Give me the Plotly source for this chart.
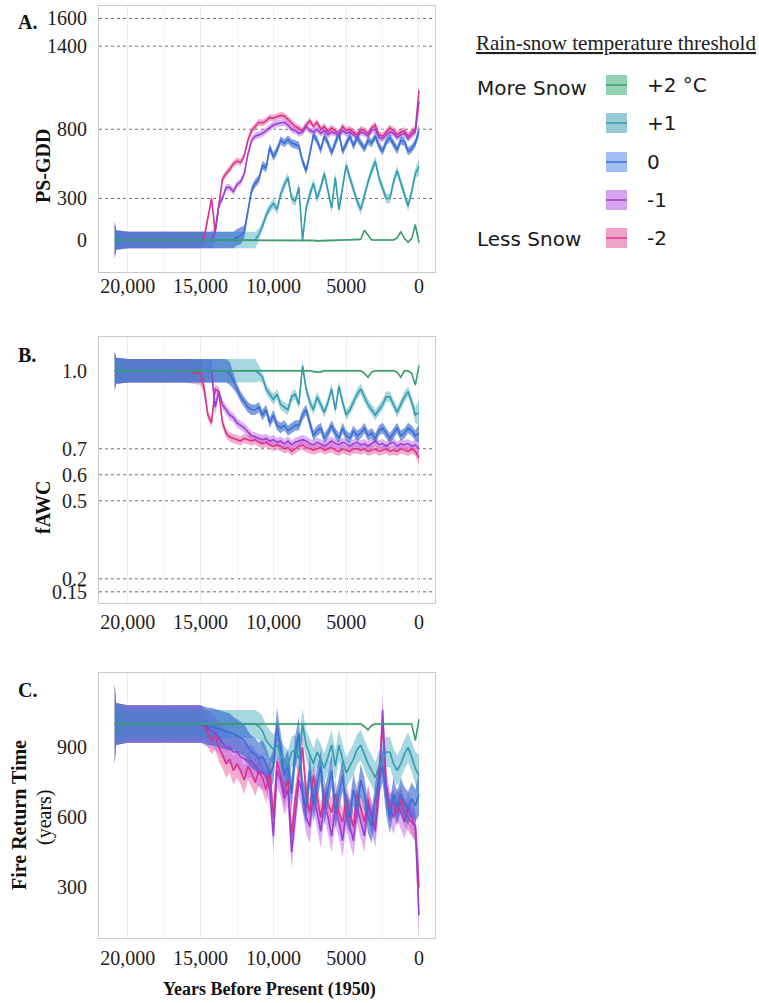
import plotly.graph_objects as go

# ---------------- data ----------------
years = [20900, 20800, 20000, 19000, 18000, 17000, 16000, 15000, 14750, 14500,
         14250, 14000, 13750, 13500, 13250, 13000, 12750, 12500, 12250, 12000,
         11750, 11500, 11250, 11000, 10750, 10500, 10250, 10000, 9750, 9500,
         9250, 9000, 8750, 8500, 8250, 8000, 7750, 7500, 7250, 7000,
         6750, 6500, 6250, 6000, 5750, 5500, 5250, 5000, 4750, 4500,
         4250, 4000, 3750, 3500, 3250, 3000, 2750, 2500, 2250, 2000,
         1750, 1500, 1250, 1000, 750, 500, 250, 0]

thresholds = ["+2 °C", "+1", "0", "-1", "-2"]

# Panel A: PS-GDD
gdd_p2 = [0, 0, 0, 0, 0, 0, 0, 0, 0, 0,
          0, 0, 0, 0, 0, 0, 0, 0, 0, 0,
          0, 0, 0, 0, 0, 0, 0, 0, 0, 0,
          0, 0, 0, 0, 0, 0, 0, 0, -3, -6,
          -5, 0, 0, 0, 0, 0, 0, 0, 0, 0,
          0, 5, 70, 35, 0, 0, 0, 0, 0, 0,
          0, 15, 60, 10, -15, 10, 110, -20]
gdd_p1 = [0, 0, 0, 0, 0, 0, 0, 0, 0, 0,
          0, 0, 0, 0, 0, 0, 0, 0, 0, 0,
          0, 0, 0, 40, 100, 180, 230, 265, 220, 330,
          400, 450, 300, 280, 380, 0, 230, 330, 410, 300,
          380, 480, 350, 230, 450, 220, 380, 540, 450, 370,
          280, 220, 330, 420, 500, 570, 450, 370, 300, 300,
          420, 500, 420, 330, 245, 350, 480, 530]
gdd_0 = [0, 0, 0, 0, 0, 0, 0, 0, 0, 0,
         0, 0, 0, 0, 0, 0, 0, 20, 30, 60,
         200, 360, 410, 440, 540, 520, 670, 600, 650, 720,
         700, 725, 700, 690, 680, 570, 500, 620, 760, 720,
         650, 750, 700, 630, 700, 770, 640, 700, 750, 680,
         740, 700, 660, 720, 700, 750, 680, 640, 710, 740,
         690, 650, 720, 710, 640, 660, 700, 790]
gdd_m1 = [0, 0, 0, 0, 0, 0, 0, 0, 0, 0,
          0, 60, 250, 300, 380, 380, 350, 400, 420, 480,
          620, 720, 750, 760, 770, 790, 810, 830, 840, 845,
          850, 830, 800, 790, 770, 780, 820, 790, 780, 800,
          770, 790, 760, 780, 770, 750, 790, 770, 780, 760,
          740, 780, 770, 750, 790, 800, 740, 730, 760, 780,
          770, 740, 760, 770, 730, 760, 780, 1000]
gdd_m2 = [0, 0, 0, 0, 0, 0, 0, 0, 20, 150,
          300, 60, 250, 440, 480, 510, 550, 570, 560, 610,
          720, 790, 820, 850, 845, 860, 885, 880, 890, 900,
          895, 870, 850, 820, 805, 790, 830, 860, 820, 850,
          800, 820, 780, 810, 790, 770, 820, 790, 800, 780,
          760, 800, 790, 770, 810, 830, 760, 750, 780, 810,
          790, 760, 780, 790, 750, 780, 800, 1080]

# ribbon half-widths, panel A
hwA_p2 = [100, 50, 8, 8, 8, 8, 8, 8, 8, 8,
          8, 8, 8, 8, 8, 8, 8, 8, 8, 8,
          8, 8, 8, 8, 8, 8, 8, 8, 8, 8,
          8, 8, 8, 8, 8, 8, 8, 8, 8, 8,
          8, 8, 8, 8, 8, 8, 8, 8, 8, 8,
          8, 8, 8, 8, 8, 8, 8, 8, 8, 8,
          8, 8, 8, 8, 8, 8, 10, 15]
hwA_p1 = [130, 70, 60, 60, 60, 60, 60, 60, 60, 60,
          60, 60, 60, 60, 60, 60, 60, 60, 60, 60,
          60, 60, 60, 45, 35, 35, 35, 35, 35, 35,
          35, 35, 35, 35, 35, 35, 35, 35, 35, 35,
          35, 35, 35, 35, 35, 35, 35, 35, 35, 35,
          35, 35, 35, 35, 35, 35, 35, 35, 35, 35,
          35, 35, 35, 35, 35, 35, 40, 60]
hwA_0 = [130, 70, 60, 60, 60, 60, 60, 60, 60, 60,
         60, 60, 60, 60, 60, 60, 60, 60, 60, 45,
         30, 30, 30, 30, 30, 30, 30, 30, 30, 30,
         30, 30, 30, 30, 30, 30, 30, 30, 30, 30,
         30, 30, 30, 30, 30, 30, 30, 30, 30, 30,
         30, 30, 30, 30, 30, 30, 30, 30, 30, 30,
         30, 30, 30, 30, 30, 30, 30, 40]
hwA_m1 = [130, 70, 60, 60, 60, 60, 60, 60, 60, 60,
          60, 40, 25, 25, 25, 25, 25, 25, 25, 25,
          25, 25, 25, 25, 25, 25, 25, 25, 25, 25,
          25, 25, 25, 25, 25, 25, 25, 25, 25, 25,
          25, 25, 25, 25, 25, 25, 25, 25, 25, 25,
          25, 25, 25, 25, 25, 25, 25, 25, 25, 25,
          25, 25, 25, 25, 25, 25, 25, 40]
hwA_m2 = [130, 70, 60, 60, 60, 60, 60, 60, 40, 25,
          25, 25, 25, 25, 25, 25, 25, 25, 25, 25,
          25, 25, 25, 25, 25, 25, 25, 25, 25, 25,
          25, 25, 25, 25, 25, 25, 25, 25, 25, 25,
          25, 25, 25, 25, 25, 25, 25, 25, 25, 25,
          25, 25, 25, 25, 25, 25, 25, 25, 25, 25,
          25, 25, 25, 25, 25, 25, 25, 40]

# Panel B: fAWC
awc_p2 = [1.0, 1.0, 1.0, 1.0, 1.0, 1.0, 1.0, 1.0, 1.0, 1.0,
          1.0, 1.0, 1.0, 1.0, 1.0, 1.0, 1.0, 1.0, 1.0, 1.0,
          1.0, 1.0, 1.0, 1.0, 1.0, 1.0, 1.0, 1.0, 1.0, 1.0,
          1.0, 1.0, 1.0, 1.0, 1.0, 1.0, 1.0, 1.0, 0.997, 0.995,
          0.996, 1.0, 1.0, 1.0, 1.0, 1.0, 1.0, 1.0, 1.0, 1.0,
          1.0, 1.0, 0.99, 0.975, 0.995, 1.0, 1.0, 1.0, 1.0, 1.0,
          1.0, 0.995, 0.975, 1.0, 1.0, 0.99, 0.945, 1.02]
awc_p1 = [1.0, 1.0, 1.0, 1.0, 1.0, 1.0, 1.0, 1.0, 1.0, 1.0,
          1.0, 1.0, 1.0, 1.0, 1.0, 1.0, 1.0, 1.0, 1.0, 1.0,
          1.0, 1.0, 1.0, 0.99, 0.975, 0.93, 0.91, 0.89, 0.91, 0.87,
          0.86, 0.85, 0.90, 0.91, 0.87, 1.02, 0.93, 0.88, 0.85, 0.90,
          0.87, 0.84, 0.88, 0.93, 0.85, 0.94, 0.88, 0.83, 0.85, 0.88,
          0.91, 0.93, 0.90, 0.87, 0.85, 0.83, 0.85, 0.87, 0.90, 0.90,
          0.87, 0.84, 0.87, 0.90, 0.92, 0.88, 0.83, 0.84]
awc_0 = [1.0, 1.0, 1.0, 1.0, 1.0, 1.0, 1.0, 1.0, 1.0, 1.0,
         1.0, 1.0, 1.0, 1.0, 1.0, 0.99, 0.96, 0.93, 0.90, 0.88,
         0.86, 0.85, 0.85, 0.86, 0.83, 0.85, 0.80, 0.83, 0.79, 0.78,
         0.79, 0.77, 0.78, 0.79, 0.79, 0.83, 0.85, 0.80, 0.75, 0.77,
         0.78, 0.74, 0.76, 0.79, 0.76, 0.74, 0.78, 0.75, 0.74, 0.77,
         0.75, 0.76, 0.78, 0.75, 0.76, 0.74, 0.77, 0.78, 0.76, 0.74,
         0.76, 0.78, 0.75, 0.76, 0.78, 0.77, 0.75, 0.76]
awc_m1 = [1.0, 1.0, 1.0, 1.0, 1.0, 1.0, 1.0, 1.0, 1.0, 1.0,
          1.0, 0.86, 0.92, 0.87, 0.85, 0.83, 0.82, 0.80, 0.79, 0.78,
          0.765, 0.75, 0.745, 0.74, 0.735, 0.74, 0.73, 0.735, 0.725, 0.73,
          0.72, 0.73, 0.715, 0.725, 0.73, 0.735, 0.73, 0.72, 0.715, 0.725,
          0.72, 0.71, 0.72, 0.73, 0.72, 0.715, 0.725, 0.72, 0.71, 0.72,
          0.725, 0.715, 0.72, 0.71, 0.72, 0.73, 0.715, 0.72, 0.71, 0.72,
          0.725, 0.71, 0.72, 0.715, 0.72, 0.71, 0.715, 0.70]
awc_m2 = [1.0, 1.0, 1.0, 1.0, 1.0, 1.0, 1.0, 0.99, 0.93, 0.83,
          0.80, 0.93, 0.92, 0.80, 0.76, 0.745, 0.74, 0.735, 0.73, 0.74,
          0.735, 0.73, 0.735, 0.725, 0.72, 0.725, 0.715, 0.71, 0.715, 0.71,
          0.70, 0.705, 0.69, 0.70, 0.71, 0.715, 0.705, 0.70, 0.695, 0.70,
          0.705, 0.695, 0.70, 0.705, 0.695, 0.69, 0.70, 0.695, 0.69, 0.70,
          0.70, 0.695, 0.70, 0.69, 0.695, 0.70, 0.69, 0.695, 0.70, 0.69,
          0.695, 0.69, 0.70, 0.695, 0.69, 0.70, 0.69, 0.665]

hwB_p2 = [0.06, 0.03, 0.004, 0.004, 0.004, 0.004, 0.004, 0.004, 0.004, 0.004,
          0.004, 0.004, 0.004, 0.004, 0.004, 0.004, 0.004, 0.004, 0.004, 0.004,
          0.004, 0.004, 0.004, 0.004, 0.004, 0.004, 0.004, 0.004, 0.004, 0.004,
          0.004, 0.004, 0.004, 0.004, 0.004, 0.004, 0.004, 0.004, 0.004, 0.004,
          0.004, 0.004, 0.004, 0.004, 0.004, 0.004, 0.004, 0.004, 0.004, 0.004,
          0.004, 0.004, 0.004, 0.004, 0.004, 0.004, 0.004, 0.004, 0.004, 0.004,
          0.004, 0.004, 0.004, 0.004, 0.004, 0.004, 0.006, 0.01]
hwB_p1 = [0.075, 0.05, 0.045, 0.045, 0.045, 0.045, 0.045, 0.045, 0.045, 0.045,
          0.045, 0.045, 0.045, 0.045, 0.045, 0.045, 0.045, 0.045, 0.045, 0.045,
          0.045, 0.045, 0.045, 0.03, 0.02, 0.02, 0.02, 0.02, 0.02, 0.02,
          0.02, 0.02, 0.02, 0.02, 0.02, 0.02, 0.02, 0.02, 0.02, 0.02,
          0.02, 0.02, 0.02, 0.02, 0.02, 0.02, 0.02, 0.02, 0.02, 0.02,
          0.02, 0.02, 0.02, 0.02, 0.02, 0.02, 0.02, 0.02, 0.02, 0.02,
          0.02, 0.02, 0.02, 0.02, 0.02, 0.02, 0.03, 0.05]
hwB_0 = [0.075, 0.05, 0.045, 0.045, 0.045, 0.045, 0.045, 0.045, 0.045, 0.045,
         0.045, 0.045, 0.045, 0.045, 0.045, 0.045, 0.03, 0.02, 0.02, 0.02,
         0.02, 0.02, 0.02, 0.02, 0.02, 0.02, 0.02, 0.02, 0.02, 0.02,
         0.02, 0.02, 0.02, 0.02, 0.02, 0.02, 0.02, 0.02, 0.02, 0.02,
         0.02, 0.02, 0.02, 0.02, 0.02, 0.02, 0.02, 0.02, 0.02, 0.02,
         0.02, 0.02, 0.02, 0.02, 0.02, 0.02, 0.02, 0.02, 0.02, 0.02,
         0.02, 0.02, 0.02, 0.02, 0.02, 0.02, 0.02, 0.035]
hwB_m1 = [0.075, 0.05, 0.045, 0.045, 0.045, 0.045, 0.045, 0.045, 0.045, 0.045,
          0.045, 0.03, 0.018, 0.018, 0.018, 0.018, 0.018, 0.018, 0.018, 0.018,
          0.018, 0.018, 0.018, 0.018, 0.018, 0.018, 0.018, 0.018, 0.018, 0.018,
          0.018, 0.018, 0.018, 0.018, 0.018, 0.018, 0.018, 0.018, 0.018, 0.018,
          0.018, 0.018, 0.018, 0.018, 0.018, 0.018, 0.018, 0.018, 0.018, 0.018,
          0.018, 0.018, 0.018, 0.018, 0.018, 0.018, 0.018, 0.018, 0.018, 0.018,
          0.018, 0.018, 0.018, 0.018, 0.018, 0.018, 0.018, 0.03]
hwB_m2 = [0.075, 0.05, 0.045, 0.045, 0.045, 0.045, 0.045, 0.045, 0.03, 0.018,
          0.018, 0.018, 0.018, 0.018, 0.018, 0.018, 0.018, 0.018, 0.018, 0.018,
          0.018, 0.018, 0.018, 0.018, 0.018, 0.018, 0.018, 0.018, 0.018, 0.018,
          0.018, 0.018, 0.018, 0.018, 0.018, 0.018, 0.018, 0.018, 0.018, 0.018,
          0.018, 0.018, 0.018, 0.018, 0.018, 0.018, 0.018, 0.018, 0.018, 0.018,
          0.018, 0.018, 0.018, 0.018, 0.018, 0.018, 0.018, 0.018, 0.018, 0.018,
          0.018, 0.018, 0.018, 0.018, 0.018, 0.018, 0.018, 0.03]

# Panel C: fire return time (years)
fire_p2 = [1000, 1000, 1000, 1000, 1000, 1000, 1000, 1000, 1000, 1000,
           1000, 1000, 1000, 1000, 1000, 1000, 1000, 1000, 1000, 1000,
           1000, 1000, 1000, 1000, 1000, 1000, 1000, 1000, 1000, 1000,
           1000, 1000, 1000, 1000, 1000, 1000, 1000, 1000, 1000, 1000,
           1000, 1000, 1000, 1000, 1000, 1000, 1000, 1000, 1000, 1000,
           1000, 1000, 990, 975, 995, 1000, 1000, 1000, 1000, 1000,
           1000, 1000, 1000, 1000, 1000, 1000, 930, 1020]
fire_p1 = [1000, 1000, 1000, 1000, 1000, 1000, 1000, 1000, 1000, 1000,
           1000, 1000, 1000, 1000, 1000, 1000, 1000, 1000, 1000, 1000,
           1000, 1000, 1000, 990, 970, 930, 910, 890, 910, 870,
           840, 820, 880, 890, 850, 1000, 910, 870, 830, 880,
           850, 810, 860, 910, 820, 910, 850, 790, 820, 850,
           890, 910, 870, 830, 800, 770, 820, 850, 880, 880,
           830, 800, 830, 870, 900, 860, 810, 780]
fire_0 = [1000, 1000, 1000, 1000, 1000, 1000, 1000, 1000, 995, 990,
          990, 985, 980, 975, 970, 965, 960, 950, 940, 930,
          900, 880, 870, 850, 860, 830, 780, 820, 1000, 900,
          780, 820, 700, 880, 960, 700, 640, 800, 650, 740,
          820, 640, 720, 800, 620, 700, 780, 640, 600, 720,
          640, 760, 700, 600, 560, 680, 760, 820, 680, 600,
          700, 640, 700, 660, 640, 680, 650, 700]
fire_m1 = [1000, 1000, 1000, 1000, 1000, 1000, 1000, 1000, 990, 980,
           970, 960, 940, 920, 900, 900, 880, 880, 860, 850,
           840, 840, 820, 800, 790, 780, 720, 520, 800, 760,
           680, 720, 450, 620, 760, 700, 600, 560, 700, 620,
           540, 660, 600, 520, 640, 580, 500, 620, 560, 500,
           640, 580, 520, 660, 600, 540, 700, 1060, 740, 640,
           600, 660, 620, 580, 640, 600, 560, 180]
fire_m2 = [1000, 1000, 1000, 1000, 1000, 1000, 1000, 1000, 990, 960,
           930, 950, 900, 870, 830, 850, 800, 830, 800, 760,
           820, 790, 750, 800, 770, 720, 800, 600, 840, 780,
           700, 760, 520, 680, 800, 900, 700, 620, 780, 680,
           600, 700, 660, 620, 700, 620, 580, 680, 620, 560,
           700, 640, 580, 680, 600, 560, 760, 1000, 700, 640,
           660, 620, 680, 620, 600, 580, 560, 300]

hwC_p2 = [120, 40, 5, 5, 5, 5, 5, 5, 5, 5,
          5, 5, 5, 5, 5, 5, 5, 5, 5, 5,
          5, 5, 5, 5, 5, 5, 5, 5, 5, 5,
          5, 5, 5, 5, 5, 5, 5, 5, 5, 5,
          5, 5, 5, 5, 5, 5, 5, 5, 5, 5,
          5, 5, 5, 5, 5, 5, 5, 5, 5, 5,
          5, 5, 5, 5, 5, 5, 8, 12]
hwC_p1 = [170, 90, 60, 60, 60, 60, 60, 60, 60, 60,
          60, 60, 60, 60, 60, 60, 60, 60, 60, 60,
          60, 60, 60, 60, 65, 65, 65, 65, 65, 65,
          65, 65, 65, 65, 65, 65, 65, 65, 65, 65,
          65, 65, 65, 65, 65, 65, 65, 65, 65, 65,
          65, 65, 65, 65, 65, 65, 65, 65, 65, 65,
          65, 65, 65, 65, 65, 65, 70, 90]
hwC_0 = [170, 90, 80, 80, 80, 80, 80, 80, 80, 80,
         80, 80, 80, 80, 80, 80, 70, 70, 70, 70,
         70, 70, 70, 70, 70, 70, 70, 70, 70, 70,
         70, 70, 70, 70, 70, 70, 70, 70, 70, 70,
         70, 70, 70, 70, 70, 70, 70, 70, 70, 70,
         70, 70, 70, 70, 70, 70, 70, 70, 70, 70,
         70, 70, 70, 70, 70, 70, 70, 90]
hwC_m1 = [170, 90, 80, 80, 80, 80, 80, 80, 80, 80,
          70, 70, 70, 70, 70, 70, 70, 70, 70, 70,
          70, 70, 70, 70, 70, 70, 70, 70, 70, 70,
          70, 70, 70, 70, 70, 70, 70, 70, 70, 70,
          70, 70, 70, 70, 70, 70, 70, 70, 70, 70,
          70, 70, 70, 70, 70, 70, 70, 70, 70, 70,
          70, 70, 70, 70, 70, 70, 70, 110]
hwC_m2 = [170, 90, 80, 80, 80, 80, 80, 80, 60, 60,
          60, 60, 60, 60, 60, 60, 60, 60, 60, 60,
          60, 60, 60, 60, 60, 60, 60, 60, 60, 60,
          60, 60, 60, 60, 60, 60, 60, 60, 60, 60,
          60, 60, 60, 60, 60, 60, 60, 60, 60, 60,
          60, 60, 60, 60, 60, 60, 60, 60, 60, 60,
          60, 60, 60, 60, 60, 60, 60, 110]

# axis ticks
x_ticks = [20000, 15000, 10000, 5000, 0]
x_tick_labels = ["20,000", "15,000", "10,000", "5000", "0"]
x_minor = [17500, 12500, 7500, 2500]
yA_ticks = [0, 300, 800, 1400, 1600]
yB_ticks = [0.15, 0.2, 0.5, 0.6, 0.7, 1.0]
yB_tick_labels = ["0.15", "0.2", "0.5", "0.6", "0.7", "1.0"]
yC_ticks = [300, 600, 900]
gridA = [300, 800, 1400, 1600]
gridB = [0.15, 0.2, 0.5, 0.6, 0.7]

# ---------------- style ----------------
W, H = 759, 1003
line_col = {"+2 °C": "#3f9c6c", "+1": "#349cae", "0": "#3b6fd4",
            "-1": "#9a3fd4", "-2": "#dc3388"}
fill_col = {"+2 °C": "rgba(90,190,140,0.5)", "+1": "rgba(80,175,195,0.5)",
            "0": "rgba(50,100,205,0.62)", "-1": "rgba(190,100,235,0.5)",
            "-2": "rgba(235,90,160,0.5)"}
swatch_col = {"+2 °C": "#92d2b2", "+1": "#98cbd6", "0": "#a2bff3",
              "-1": "#d7a2ef", "-2": "#f0a3c8"}
SERIF = "Liberation Serif"


def px(v):
    return v / W


def py(v):
    return 1 - v / H


panels = [
    ("x", "y", {"+2 °C": (gdd_p2, hwA_p2), "+1": (gdd_p1, hwA_p1), "0": (gdd_0, hwA_0),
                "-1": (gdd_m1, hwA_m1), "-2": (gdd_m2, hwA_m2)}),
    ("x2", "y2", {"+2 °C": (awc_p2, hwB_p2), "+1": (awc_p1, hwB_p1), "0": (awc_0, hwB_0),
                  "-1": (awc_m1, hwB_m1), "-2": (awc_m2, hwB_m2)}),
    ("x3", "y3", {"+2 °C": (fire_p2, hwC_p2), "+1": (fire_p1, hwC_p1), "0": (fire_0, hwC_0),
                  "-1": (fire_m1, hwC_m1), "-2": (fire_m2, hwC_m2)}),
]

ribbon_order = ["-2", "-1", "+2 °C", "+1", "0"]
line_order = ["-2", "-1", "0", "+1", "+2 °C"]

fig = go.Figure()
for xa, ya, d in panels:
    for name in ribbon_order:
        mean, hw = d[name]
        lo = [m - h for m, h in zip(mean, hw)]
        hi = [m + h for m, h in zip(mean, hw)]
        fig.add_trace(go.Scatter(x=years, y=lo, xaxis=xa, yaxis=ya, mode="lines",
                                 line=dict(width=0, color=fill_col[name]),
                                 showlegend=False, hoverinfo="skip"))
        fig.add_trace(go.Scatter(x=years, y=hi, xaxis=xa, yaxis=ya, mode="lines",
                                 line=dict(width=0, color=fill_col[name]),
                                 fill="tonexty", fillcolor=fill_col[name],
                                 showlegend=False, hoverinfo="skip"))
    for name in line_order:
        mean, hw = d[name]
        fig.add_trace(go.Scatter(x=years, y=mean, xaxis=xa, yaxis=ya, mode="lines",
                                 line=dict(width=1.6, color=line_col[name]),
                                 name=name, showlegend=False))

xdom = [px(99), px(435)]
doms = {"A": [py(272), py(6)], "B": [py(603), py(337)], "C": [py(938), py(672.7)]}

tickfont = dict(family=SERIF, size=20, color="#1e1e1e")
xcommon = dict(domain=xdom, range=[21980, -1100], tickvals=x_ticks, ticktext=x_tick_labels,
               showgrid=True, gridcolor="#eeeeee", gridwidth=1,
               minor=dict(tickvals=x_minor, showgrid=True, gridcolor="#f4f4f4"),
               showline=True, mirror=True, linecolor="#c9c9c9", linewidth=1,
               zeroline=False, ticks="", tickfont=tickfont)
ycommon = dict(showgrid=False, showline=True, mirror=True, linecolor="#c9c9c9",
               linewidth=1, zeroline=False, ticks="", tickfont=tickfont,
               ticklabelstandoff=7)

shapes = []
for ya, vals in (("y", gridA), ("y2", gridB)):
    for v in vals:
        shapes.append(dict(type="line", xref=ya.replace("y", "x") + " domain", yref=ya,
                           x0=0, x1=1, y0=v, y1=v, layer="below",
                           line=dict(color="#6e6e6e", width=1, dash="dot")))

annotations = []


def ann(text, x, y, size=20, family=SERIF, angle=0, xanchor="center", color="#111"):
    annotations.append(dict(text=text, x=px(x), y=py(y), xref="paper", yref="paper",
                            showarrow=False, xanchor=xanchor, yanchor="middle",
                            textangle=angle, font=dict(family=family, size=size, color=color)))


ann("<b>A.</b>", 16, 22, xanchor="left")
ann("<b>B.</b>", 16, 355, xanchor="left")
ann("<b>C.</b>", 16, 690, xanchor="left")
ann("<b>PS-GDD</b>", 43, 166, angle=-90)
ann("<b>fAWC</b>", 43, 508, angle=-90)
ann("<b>Fire Return Time</b>", 19, 815, angle=-90)
ann("(years)", 44, 817, angle=-90)
ann("<b>Years Before Present (1950)</b>", 269, 989, size=18)

# legend (drawn manually)
ann("<u>Rain-snow temperature threshold</u>", 474, 43, size=21, xanchor="left", color="#222")
SANS = "DejaVu Sans"
ann("More Snow", 475, 88, family=SANS, xanchor="left", color="#1a1a1a")
ann("Less Snow", 475, 239, family=SANS, xanchor="left", color="#1a1a1a")
leg_y = [85, 123, 162, 200, 238]
for name, yc in zip(thresholds, leg_y):
    shapes.append(dict(type="rect", xref="paper", yref="paper", x0=px(606), x1=px(627),
                       y0=py(yc + 10), y1=py(yc - 10), fillcolor=swatch_col[name],
                       line=dict(width=0)))
    shapes.append(dict(type="line", xref="paper", yref="paper", x0=px(606), x1=px(627),
                       y0=py(yc), y1=py(yc), line=dict(color=line_col[name], width=1.5)))
    ann(name, 645, yc, family=SANS, xanchor="left", color="#1a1a1a")

fig.update_layout(
    width=W, height=H, margin=dict(l=0, r=0, t=0, b=0),
    paper_bgcolor="white", plot_bgcolor="white", showlegend=False,
    xaxis=dict(xcommon, anchor="y", ticklabelstandoff=-4),
    xaxis2=dict(xcommon, anchor="y2", ticklabelstandoff=1),
    xaxis3=dict(xcommon, anchor="y3", ticklabelstandoff=2),
    yaxis=dict(ycommon, domain=doms["A"], anchor="x", range=[-231, 1690], tickvals=yA_ticks),
    yaxis2=dict(ycommon, domain=doms["B"], anchor="x2", range=[0.107, 1.13],
                tickvals=yB_ticks, ticktext=yB_tick_labels),
    yaxis3=dict(ycommon, domain=doms["C"], anchor="x3", range=[83, 1220], tickvals=yC_ticks),
    shapes=shapes, annotations=annotations,
)

fig.write_html("out.html")
